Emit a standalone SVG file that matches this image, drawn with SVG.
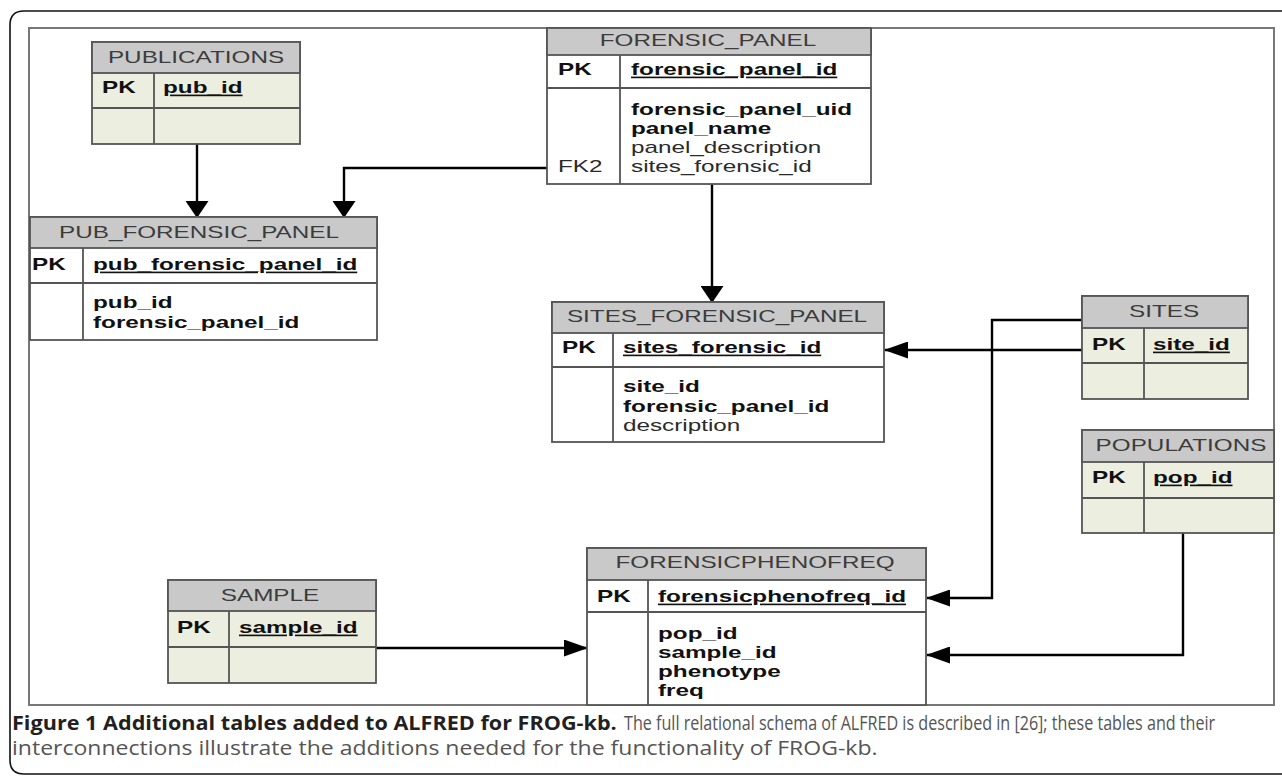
<svg xmlns="http://www.w3.org/2000/svg" width="1282" height="776" viewBox="0 0 1282 776">
<style>
text{font-family:"Liberation Sans",Arial,sans-serif;font-size:16.4px}
.h{fill:#3c3c3c;text-anchor:middle}
.b{font-weight:bold;fill:#111}
.n{fill:#2a2a2a}
.u{text-decoration:underline}
.hd{fill:#c9c9c9;stroke:#555;stroke-width:1.8}
.bg{fill:#eceedf;stroke:#555;stroke-width:1.8}
.bw{fill:#fff;stroke:#555;stroke-width:1.8}
.ln{stroke:#555;stroke-width:1.8;fill:none}
.c{stroke:#000;stroke-width:2.4;fill:none}
.cap{font-family:"Open Sans","Noto Sans",sans-serif;font-size:20px}
</style>
<defs>
<marker id="ah" markerUnits="userSpaceOnUse" markerWidth="24" markerHeight="17" viewBox="0 0 24 17" refX="23" refY="8.5" orient="auto"><path d="M0,0 L24,8.5 L0,17 z" fill="#000"/></marker>
<marker id="av" markerUnits="userSpaceOnUse" markerWidth="17" markerHeight="23" viewBox="0 0 17 23" refX="16" refY="11.5" orient="auto"><path d="M0,0 L17,11.5 L0,23 z" fill="#000"/></marker>
</defs>
<rect width="1282" height="776" fill="#fff"/>
<path d="M1282,11 H24 Q10,11 10,25 V760 Q10,774 24,774 H1282" fill="none" stroke="#111" stroke-width="1.6"/>
<rect x="29" y="28" width="1245" height="677" fill="none" stroke="#777" stroke-width="2"/>

<g id="connectors">
<path class="c" d="M197,144 V217" marker-end="url(#av)"/>
<path class="c" d="M547,168 H344 V217" marker-end="url(#av)"/>
<path class="c" d="M712,184 V302" marker-end="url(#av)"/>
<path class="c" d="M1082,350 H885" marker-end="url(#ah)"/>
<path class="c" d="M1082,320 H992 V598 H927" marker-end="url(#ah)"/>
<path class="c" d="M376,648 H587" marker-end="url(#ah)"/>
<path class="c" d="M1183,533 V655 H927" marker-end="url(#ah)"/>
</g>

<g id="publications">
<rect class="bg" x="92" y="42" width="208" height="102"/>
<rect class="hd" x="92" y="42" width="208" height="31"/>
<path class="ln" d="M92,108 H300 M154,73 V144"/>
<text class="h" transform="translate(196,63) scale(1.48,1)">PUBLICATIONS</text>
<text class="b" transform="translate(102,93) scale(1.48,1)">PK</text>
<text class="b u" transform="translate(163,93) scale(1.48,1)">pub_id</text>
</g>

<g id="pub_forensic_panel">
<rect class="bw" x="30" y="217" width="347" height="123"/>
<rect class="hd" x="30" y="217" width="347" height="31"/>
<path class="ln" d="M30,283 H377 M83,248 V340"/>
<text class="h" transform="translate(199,238) scale(1.48,1)">PUB_FORENSIC_PANEL</text>
<text class="b" transform="translate(32,270) scale(1.48,1)">PK</text>
<text class="b u" transform="translate(93,270) scale(1.48,1)">pub_forensic_panel_id</text>
<text class="b" transform="translate(93,308) scale(1.48,1)">pub_id</text>
<text class="b" transform="translate(93,328) scale(1.48,1)">forensic_panel_id</text>
</g>

<g id="forensic_panel">
<rect class="bw" x="547" y="28" width="324" height="156"/>
<rect class="hd" x="547" y="28" width="324" height="27"/>
<path class="ln" d="M547,88 H871 M620,55 V184"/>
<text class="h" transform="translate(708,46) scale(1.48,1)">FORENSIC_PANEL</text>
<text class="b" transform="translate(558,75) scale(1.48,1)">PK</text>
<text class="b u" transform="translate(631,75) scale(1.48,1)">forensic_panel_id</text>
<text class="b" transform="translate(631,115) scale(1.48,1)">forensic_panel_uid</text>
<text class="b" transform="translate(631,134) scale(1.48,1)">panel_name</text>
<text class="n" transform="translate(631,153) scale(1.48,1)">panel_description</text>
<text class="n" transform="translate(631,172) scale(1.48,1)">sites_forensic_id</text>
<text class="n" transform="translate(558,172) scale(1.48,1)">FK2</text>
</g>

<g id="sites_forensic_panel">
<rect class="bw" x="552" y="302" width="332" height="140"/>
<rect class="hd" x="552" y="302" width="332" height="31"/>
<path class="ln" d="M552,367 H884 M613,333 V442"/>
<text class="h" transform="translate(717,322) scale(1.48,1)">SITES_FORENSIC_PANEL</text>
<text class="b" transform="translate(562,353) scale(1.48,1)">PK</text>
<text class="b u" transform="translate(623,353) scale(1.48,1)">sites_forensic_id</text>
<text class="b" transform="translate(623,392) scale(1.48,1)">site_id</text>
<text class="b" transform="translate(623,412) scale(1.48,1)">forensic_panel_id</text>
<text class="n" transform="translate(623,431) scale(1.48,1)">description</text>
</g>

<g id="sites">
<rect class="bg" x="1082" y="296" width="166" height="103"/>
<rect class="hd" x="1082" y="296" width="166" height="32"/>
<path class="ln" d="M1082,363 H1248 M1144,328 V399"/>
<text class="h" transform="translate(1164,317) scale(1.48,1)">SITES</text>
<text class="b" transform="translate(1092,350) scale(1.48,1)">PK</text>
<text class="b u" transform="translate(1153,350) scale(1.48,1)">site_id</text>
</g>

<g id="populations">
<rect class="bg" x="1082" y="430" width="192" height="103"/>
<rect class="hd" x="1082" y="430" width="192" height="32"/>
<path class="ln" d="M1082,498 H1274 M1144,462 V533"/>
<text class="h" transform="translate(1181,451) scale(1.48,1)">POPULATIONS</text>
<text class="b" transform="translate(1092,483) scale(1.48,1)">PK</text>
<text class="b u" transform="translate(1153,483) scale(1.48,1)">pop_id</text>
</g>

<g id="sample">
<rect class="bg" x="168" y="580" width="208" height="103"/>
<rect class="hd" x="168" y="580" width="208" height="31"/>
<path class="ln" d="M168,647 H376 M229,611 V683"/>
<text class="h" transform="translate(270,601) scale(1.48,1)">SAMPLE</text>
<text class="b" transform="translate(177,633) scale(1.48,1)">PK</text>
<text class="b u" transform="translate(239,633) scale(1.48,1)">sample_id</text>
</g>

<g id="forensicphenofreq">
<rect class="bw" x="587" y="548" width="339" height="157"/>
<rect class="hd" x="587" y="548" width="339" height="32"/>
<path class="ln" d="M587,612 H926 M648,580 V705"/>
<text class="h" transform="translate(755,568) scale(1.48,1)">FORENSICPHENOFREQ</text>
<text class="b" transform="translate(597,602) scale(1.48,1)">PK</text>
<text class="b u" transform="translate(658,602) scale(1.48,1)">forensicphenofreq_id</text>
<text class="b" transform="translate(658,639) scale(1.48,1)">pop_id</text>
<text class="b" transform="translate(658,658) scale(1.48,1)">sample_id</text>
<text class="b" transform="translate(658,677) scale(1.48,1)">phenotype</text>
<text class="b" transform="translate(658,696) scale(1.48,1)">freq</text>
</g>

<g id="caption">
<text class="cap" transform="translate(12,730) scale(0.8,1)" textLength="756" lengthAdjust="spacingAndGlyphs" font-weight="bold" fill="#231f20">Figure 1 Additional tables added to ALFRED for FROG-kb.</text>
<text class="cap" transform="translate(624,730) scale(0.8,1)" textLength="739" lengthAdjust="spacingAndGlyphs" fill="#555">The full relational schema of ALFRED is described in [26]; these tables and their</text>
<text class="cap" transform="translate(12,755) scale(0.8,1)" textLength="1082" lengthAdjust="spacingAndGlyphs" fill="#555">interconnections illustrate the additions needed for the functionality of FROG-kb.</text>
</g>
</svg>
